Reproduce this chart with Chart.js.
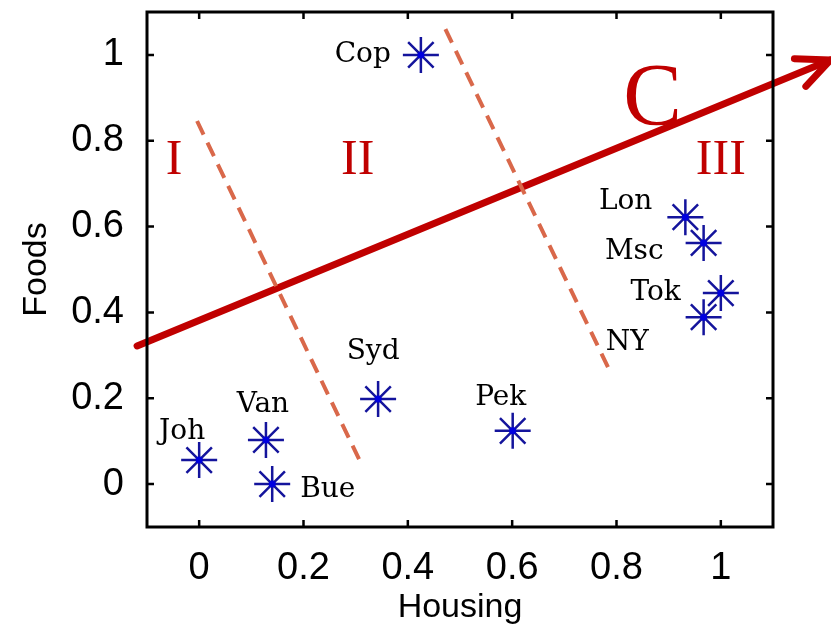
<!DOCTYPE html>
<html>
<head>
<meta charset="utf-8">
<script src="https://cdn.jsdelivr.net/npm/chart.js@4.4.0/dist/chart.umd.min.js"></script>
<style>
  html, body { margin: 0; padding: 0; background: #fff; }
  canvas { display: block; }
</style>
</head>
<body>
<canvas id="chart" width="831" height="629"></canvas>
<script>
    // Cities, housing (x) and foods (y) indices
    const cities  = ['Joh', 'Van', 'Bue', 'Syd', 'Pek', 'Cop', 'Lon', 'Msc', 'Tok', 'NY'];
    const housing = [0.000, 0.128, 0.140, 0.343, 0.601, 0.425, 0.932, 0.967, 1.000, 0.967];
    const foods   = [0.056, 0.103, 0.000, 0.198, 0.124, 1.000, 0.622, 0.562, 0.445, 0.389];

    const xTicks = [0, 0.2, 0.4, 0.6, 0.8, 1];
    const yTicks = [0, 0.2, 0.4, 0.6, 0.8, 1];

    // dashed borders between the groups
    const border1X = [-0.004, 0.310];
    const border1Y = [0.846, 0.049];
    const border2X = [0.472, 0.789];
    const border2Y = [1.060, 0.259];

    // direction C (arrow)
    const arrowX = [-0.119, 1.210];
    const arrowY = [0.322, 0.988];

    // group names and the arrow name
    const groupNames = ['I', 'II', 'III', 'C'];
    const groupX = [-0.048, 0.304, 1.000, 0.869];
    const groupY = [0.723, 0.723, 0.723, 0.839];

    const RED = '#c00000';
    const DASH = 'rgb(217,104,74)';
    const NAVY = '#14149c';

    // where each city name sits relative to its marker: [align, dx, dy to baseline]
    const labelPlace = {
      Joh: ['center', -17, -21],
      Van: ['center', -3, -28],
      Bue: ['left', 28, 13],
      Syd: ['center', -5, -40],
      Pek: ['center', -12, -26],
      Cop: ['right', -30, 7],
      Lon: ['right', -33, -8],
      Msc: ['right', -40, 16],
      Tok: ['right', -40, 7],
      NY:  ['right', -55, 33]
    };

    function pts(xs, ys) {
      return xs.map((v, i) => ({ x: v, y: ys[i] }));
    }

    const decor = {
      id: 'decor',
      afterDatasetsDraw(chart) {
        const { ctx, scales: { x, y } } = chart;
        ctx.save();

        // arrow head
        const meta = chart.getDatasetMeta(3);
        const p0 = meta.data[0], p1 = meta.data[1];
        const ang = Math.atan2(p1.y - p0.y, p1.x - p0.x);
        ctx.strokeStyle = RED;
        ctx.lineWidth = 7;
        ctx.lineCap = 'round';
        ctx.beginPath();
        [-1, 1].forEach(s => {
          ctx.moveTo(p1.x, p1.y);
          ctx.lineTo(p1.x - 36 * Math.cos(ang + s * 0.43), p1.y - 36 * Math.sin(ang + s * 0.43));
        });
        ctx.stroke();

        // group names
        ctx.fillStyle = RED;
        ctx.textAlign = 'center';
        ctx.textBaseline = 'alphabetic';
        groupNames.forEach((t, i) => {
          ctx.font = (t === 'C' ? '88px' : '50px') + ' "Liberation Serif", serif';
          ctx.fillText(t, x.getPixelForValue(groupX[i]), y.getPixelForValue(groupY[i]));
        });

        // city names
        ctx.fillStyle = '#000';
        ctx.font = '28px "DejaVu Serif", serif';
        cities.forEach((c, i) => {
          const [al, dx, dy] = labelPlace[c];
          ctx.textAlign = al;
          ctx.fillText(c, x.getPixelForValue(housing[i]) + dx, y.getPixelForValue(foods[i]) + dy);
        });
        ctx.restore();
      },
      afterDraw(chart) {
        const { ctx, chartArea: a, scales: { x, y } } = chart;
        ctx.save();
        ctx.strokeStyle = '#000';
        ctx.lineWidth = 3;
        ctx.strokeRect(a.left, a.top, a.right - a.left, a.bottom - a.top);
        // inward tick marks on all four sides
        ctx.lineWidth = 2.5;
        ctx.beginPath();
        xTicks.forEach(v => {
          const px = x.getPixelForValue(v);
          ctx.moveTo(px, a.bottom); ctx.lineTo(px, a.bottom - 7);
          ctx.moveTo(px, a.top); ctx.lineTo(px, a.top + 7);
        });
        yTicks.forEach(v => {
          const py = y.getPixelForValue(v);
          ctx.moveTo(a.left, py); ctx.lineTo(a.left + 7, py);
          ctx.moveTo(a.right, py); ctx.lineTo(a.right - 7, py);
        });
        ctx.stroke();
        ctx.restore();
      }
    };

    const tickFont = { family: '"Liberation Sans", Arial, sans-serif', size: 38 };
    const titleFont = { family: '"Liberation Sans", Arial, sans-serif', size: 34 };

    const ctx = document.getElementById('chart').getContext('2d');
    const chart = new Chart(ctx, {
      type: 'scatter',
      data: {
        datasets: [
          {
            // center dots
            data: pts(housing, foods),
            pointStyle: 'circle',
            pointRadius: 3.5,
            backgroundColor: '#0000e0',
            borderColor: '#0000e0',
            borderWidth: 0,
            order: 0
          },
          {
            // asterisks
            data: pts(housing, foods),
            pointStyle: 'star',
            pointRadius: 18,
            borderColor: NAVY,
            borderWidth: 2.5,
            order: 1
          },
          {
            data: pts(border1X, border1Y),
            showLine: true,
            borderColor: DASH,
            borderWidth: 4,
            borderDash: [15, 9],
            pointRadius: 0,
            order: 2
          },
          {
            // arrow C
            data: pts(arrowX, arrowY),
            showLine: true,
            borderColor: RED,
            borderWidth: 7,
            borderCapStyle: 'round',
            pointRadius: 0,
            clip: false,
            order: 4
          },
          {
            data: pts(border2X, border2Y),
            showLine: true,
            borderColor: DASH,
            borderWidth: 4,
            borderDash: [15, 9],
            pointRadius: 0,
            order: 3
          }
        ]
      },
      options: {
        responsive: false,
        animation: false,
        devicePixelRatio: 1,
        layout: { autoPadding: false, padding: { top: 12, right: 58, left: 0, bottom: 0 } },
        plugins: { legend: { display: false }, tooltip: { enabled: false } },
        events: [],
        scales: {
          x: {
            type: 'linear',
            min: -0.1,
            max: 1.1,
            afterBuildTicks: s => { s.ticks = xTicks.map(v => ({ value: v })); },
            afterFit: s => { s.height = 102; s.paddingLeft = 0; s.paddingRight = 0; },
            grid: { display: false },
            border: { display: false },
            ticks: { color: '#000', font: tickFont, padding: 11, maxRotation: 0, callback: v => String(v) },
            title: { display: true, text: 'Housing', color: '#000', font: titleFont, padding: { top: 0, bottom: 1 } }
          },
          y: {
            type: 'linear',
            min: -0.1,
            max: 1.1,
            afterBuildTicks: s => { s.ticks = yTicks.map(v => ({ value: v })); },
            afterFit: s => { s.width = 147; s.paddingTop = 0; s.paddingBottom = 0; },
            grid: { display: false },
            border: { display: false },
            ticks: { color: '#000', font: tickFont, padding: 15, callback: v => String(v) },
            title: { display: true, text: 'Foods', color: '#000', font: titleFont, padding: { top: 16, bottom: 0 } }
          }
        }
      },
      plugins: [decor]
    });
</script>
</body>
</html>
